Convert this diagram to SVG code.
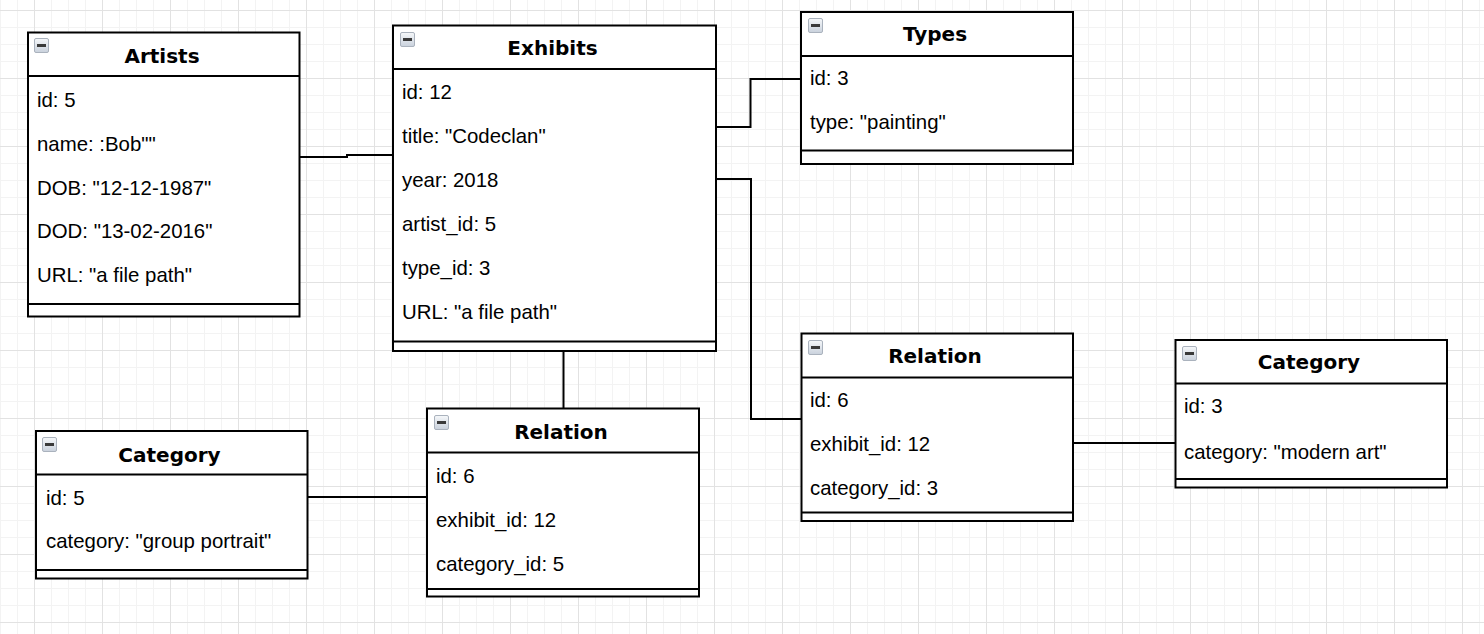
<svg xmlns="http://www.w3.org/2000/svg" width="1484" height="634" viewBox="0 0 1484 634">
<style>
.box{fill:#fff;stroke:#000;stroke-width:2}
.sep{stroke:#000;stroke-width:2;fill:none}
.title{font-family:"DejaVu Sans",Verdana,sans-serif;font-weight:bold;font-size:20px;fill:#000;text-anchor:middle}
.field{font-family:"Liberation Sans",Arial,Helvetica,sans-serif;font-size:20.4px;fill:#000}
.conn path{stroke:#000;stroke-width:2;fill:none}
</style>
<defs>
<pattern id="grid" patternUnits="userSpaceOnUse" x="0" y="10" width="68" height="68">
<path d="M0.5,0V68M17.5,0V68M51.5,0V68M0,17.5H68M0,34.5H68M0,51.5H68" stroke="#f3f3f3" stroke-width="1" fill="none"/>
<path d="M34.5,0V68M0,0.5H68" stroke="#e2e2e2" stroke-width="1" fill="none"/>
</pattern>
<linearGradient id="ig" x1="0" y1="0" x2="0" y2="1">
<stop offset="0" stop-color="#f6f8fa"/>
<stop offset="1" stop-color="#c9d1dc"/>
</linearGradient>
<g id="icon">
<rect x="0.5" y="0.5" width="14" height="14" rx="1.5" fill="url(#ig)" stroke="#aab2bd" stroke-width="1"/>
<rect x="3" y="6" width="9" height="3" fill="#3a3a3a"/>
</g>
</defs>
<rect width="1484" height="634" fill="#fff"/>
<rect width="1484" height="634" fill="url(#grid)"/>

<g id="connectors" class="conn">
<path d="M300,157H347V155H393"/>
<path d="M716,127H750.5V79H801"/>
<path d="M716,179H751V419H801"/>
<path d="M563.5,349V408"/>
<path d="M308,497H427"/>
<path d="M1073,443H1175"/>
</g>

<g id="artists">
<rect class="box" x="28" y="32.5" width="271.5" height="284"/>
<path class="sep" d="M28,76H299.5M28,304H299.5"/>
<use href="#icon" x="34" y="38"/>
<text class="title" x="162" y="62.5">Artists</text>
<text class="field" x="37" y="107.3">id: 5</text>
<text class="field" x="37" y="151">name: :Bob""</text>
<text class="field" x="37" y="194.7">DOB: "12-12-1987"</text>
<text class="field" x="37" y="238.4">DOD: "13-02-2016"</text>
<text class="field" x="37" y="282">URL: "a file path"</text>
</g>

<g id="exhibits">
<rect class="box" x="393" y="25.5" width="323" height="325.5"/>
<path class="sep" d="M393,69H716M393,341.5H716"/>
<use href="#icon" x="400" y="32"/>
<text class="title" x="552.5" y="54.5">Exhibits</text>
<text class="field" x="402" y="98.5">id: 12</text>
<text class="field" x="402" y="142.5">title: "Codeclan"</text>
<text class="field" x="402" y="186.5">year: 2018</text>
<text class="field" x="402" y="230.5">artist_id: 5</text>
<text class="field" x="402" y="274.5">type_id: 3</text>
<text class="field" x="402" y="318.5">URL: "a file path"</text>
</g>

<g id="types">
<rect class="box" x="801" y="12" width="272" height="152"/>
<path class="sep" d="M801,56H1073M801,150.5H1073"/>
<use href="#icon" x="808" y="18"/>
<text class="title" x="935" y="41">Types</text>
<text class="field" x="810" y="85">id: 3</text>
<text class="field" x="810" y="129">type: "painting"</text>
</g>

<g id="relation-right">
<rect class="box" x="801.5" y="333.5" width="271.5" height="187.5"/>
<path class="sep" d="M801.5,377.5H1073M801.5,512.5H1073"/>
<use href="#icon" x="808" y="340"/>
<text class="title" x="935" y="363">Relation</text>
<text class="field" x="810" y="407.3">id: 6</text>
<text class="field" x="810" y="451">exhibit_id: 12</text>
<text class="field" x="810" y="495">category_id: 3</text>
</g>

<g id="category-right">
<rect class="box" x="1175.5" y="340" width="271.5" height="147.5"/>
<path class="sep" d="M1175.5,383.5H1447M1175.5,479H1447"/>
<use href="#icon" x="1182" y="346"/>
<text class="title" x="1309" y="368.5">Category</text>
<text class="field" x="1184" y="413.3">id: 3</text>
<text class="field" x="1184" y="459.3">category: "modern art"</text>
</g>

<g id="relation-mid">
<rect class="box" x="427" y="408.5" width="272" height="188"/>
<path class="sep" d="M427,452.5H699M427,589H699"/>
<use href="#icon" x="434" y="415"/>
<text class="title" x="561" y="439">Relation</text>
<text class="field" x="436" y="483.3">id: 6</text>
<text class="field" x="436" y="526.7">exhibit_id: 12</text>
<text class="field" x="436" y="570.7">category_id: 5</text>
</g>

<g id="category-left">
<rect class="box" x="36" y="431" width="271.5" height="147.5"/>
<path class="sep" d="M36,474.5H307.5M36,570H307.5"/>
<use href="#icon" x="42" y="437"/>
<text class="title" x="169.5" y="461.5">Category</text>
<text class="field" x="46" y="505">id: 5</text>
<text class="field" x="46" y="548.3">category: "group portrait"</text>
</g>
</svg>
